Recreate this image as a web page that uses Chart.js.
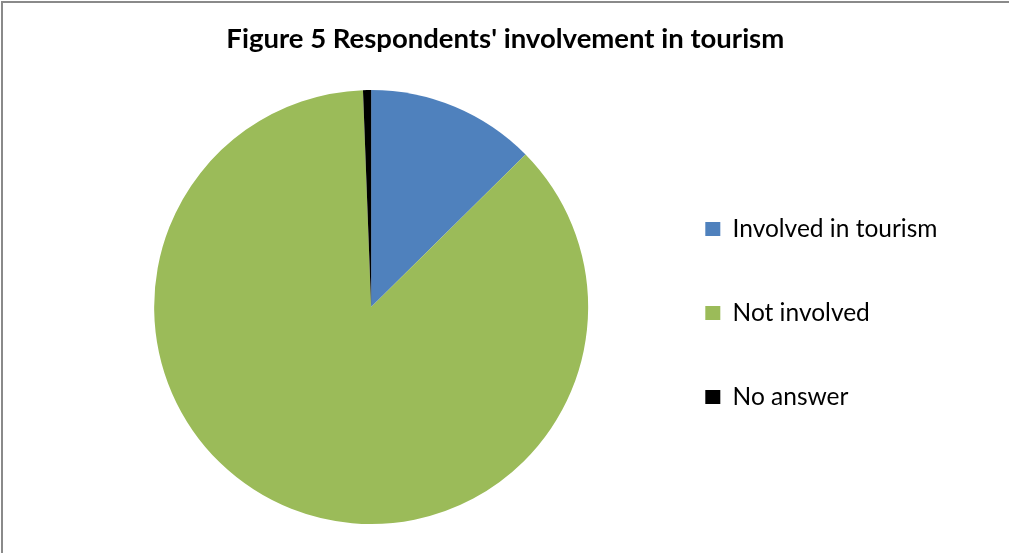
<!DOCTYPE html>
<html>
<head>
<meta charset="utf-8">
<title>Figure 5 Respondents' involvement in tourism</title>
<script src="https://cdn.jsdelivr.net/npm/chart.js@4/dist/chart.umd.min.js"></script>
<style>
  html, body { margin: 0; padding: 0; background: #ffffff; overflow: hidden; }
  #wrap { position: relative; width: 1009px; height: 553px; }
  #chart { position: absolute; left: 0; top: 0; }
  /* frame edge along the top and left sides */
  #frame {
    position: absolute; left: 1px; top: 1px; width: 1100px; height: 600px;
    border-top: 2px solid #8a8a8a; border-left: 2px solid #8a8a8a;
    pointer-events: none;
  }
</style>
</head>
<body>
<div id="wrap">
  <canvas id="chart" width="1009" height="553"></canvas>
  <div id="frame"></div>
</div>
<script>
// Survey answers (percent of respondents)
const categories = ['Involved in tourism', 'Not involved', 'No answer'];
const shares = [12.6, 86.8, 0.6];
const sliceColors = ['#4f81bd', '#9bbb59', '#000000'];
// trailing spaces keep the heading centred on the whole figure rather than on pie + legend
const chartTitle = "Figure 5 Respondents' involvement in tourism     ";

const ctx = document.getElementById('chart').getContext('2d');
new Chart(ctx, {
  type: 'pie',
  data: {
    labels: categories,
    datasets: [{
      data: shares,
      backgroundColor: sliceColors,
      borderWidth: 0
    }]
  },
  options: {
    responsive: false,
    devicePixelRatio: 1,
    animation: false,
    events: [],
    layout: { padding: { top: 0, bottom: 29, left: 96.5, right: 61.5 } },
    plugins: {
      tooltip: { enabled: false },
      title: {
        display: true,
        text: chartTitle,
        color: '#000000',
        font: { family: 'Lato', size: 27.5, weight: 'bold', lineHeight: 1.2 },
        padding: { top: 23, bottom: 34 }
      },
      legend: {
        display: true,
        position: 'right',
        align: 'center',
        fullSize: false,
        title: { display: true, text: ' ', padding: 0, font: { size: 10, lineHeight: 1.2 } },
        labels: {
          boxWidth: 15,
          boxHeight: 14,
          padding: 59.5,
          color: '#000000',
          font: { family: 'Lato', size: 24.5 }
        }
      }
    }
  }
});
</script>
</body>
</html>
